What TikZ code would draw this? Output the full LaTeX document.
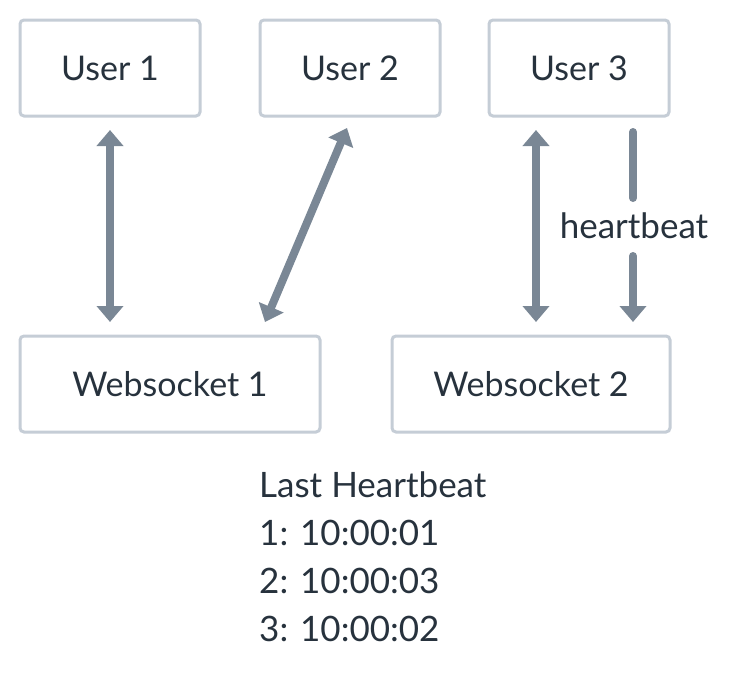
\documentclass[tikz,border=0pt]{standalone}
\usepackage{fontspec}
\setmainfont{Lato}
\usetikzlibrary{arrows.meta}
\definecolor{boxc}{HTML}{C5CDD6}
\definecolor{arrc}{HTML}{7A8795}
\definecolor{txt}{HTML}{27323D}
\begin{document}
\begin{tikzpicture}[x=1pt,y=-1pt,
  box/.style={draw=boxc,line width=3pt,rounded corners=4pt,fill=white,text=txt,font=\fontsize{34}{40}\selectfont},
  link/.style={draw=arrc,line width=8pt,{Triangle[width=26pt,length=16pt]}-{Triangle[width=26pt,length=16pt]}},
  onearr/.style={draw=arrc,line width=8pt,line cap=round,-{Triangle[width=26pt,length=16pt]}},
  plain/.style={draw=arrc,line width=8pt,line cap=round},
  lbl/.style={text=txt,font=\fontsize{35}{42}\selectfont,inner sep=0pt}]
\useasboundingbox (0,0) rectangle (738,672);
\node[box,minimum width=180pt,minimum height=96pt] (u1) at (110,68) {User 1};
\node[box,minimum width=180pt,minimum height=96pt] (u2) at (350,68) {User 2};
\node[box,minimum width=180pt,minimum height=96pt] (u3) at (579,68) {User 3};
\node[box,minimum width=300pt,minimum height=96pt] (w1) at (170,384) {Websocket 1};
\node[box,minimum width=278pt,minimum height=96pt] (w2) at (531,384) {Websocket 2};
\coordinate (a1t) at (110,130); \coordinate (a1b) at (110,322);
\coordinate (a2t) at (347,128); \coordinate (a2b) at (265,322);
\coordinate (a3t) at (536,130); \coordinate (a3b) at (536,322);
\coordinate (h1) at (633,132); \coordinate (h2) at (633,198);
\coordinate (h3) at (633,256); \coordinate (h4) at (633,322);
\draw[link] (a1t) -- (a1b);
\draw[link] (a2t) -- (a2b);
\draw[link] (a3t) -- (a3b);
\draw[plain] (h1) -- (h2);
\draw[onearr] (h3) -- (h4);
\node[lbl,anchor=base] (hb) at (634,238) {heartbeat};
\node[lbl,anchor=base west] (l0) at (259,497) {Last Heartbeat};
\node[lbl,anchor=base west] (l1) at (259,545) {1: 10:00:01};
\node[lbl,anchor=base west] (l2) at (259,593) {2: 10:00:03};
\node[lbl,anchor=base west] (l3) at (259,641) {3: 10:00:02};
\end{tikzpicture}
\end{document}
